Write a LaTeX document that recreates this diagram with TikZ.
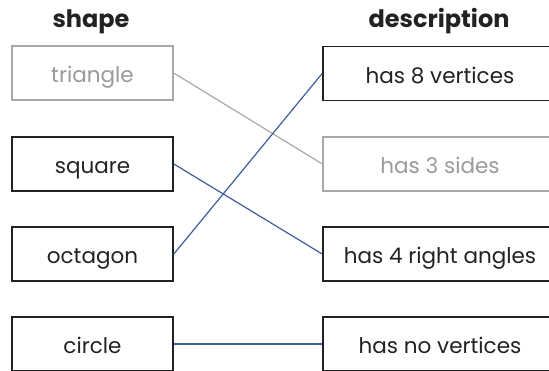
\documentclass[tikz,border=0pt]{standalone}
\usepackage{fontspec}
\setmainfont{Poppins}
\definecolor{ink}{HTML}{222222}
\definecolor{faint}{HTML}{A8A8A8}
\definecolor{fainttext}{HTML}{9A9A9A}
\definecolor{link}{HTML}{3D5E9C}
\tikzset{
  box/.style={draw=ink, line width=1.7pt, minimum width=161pt, minimum height=54pt,
              inner sep=0pt, text height=22pt, text depth=2pt,
              text=ink, font=\fontsize{21.5}{24}\selectfont},
  dimbox/.style={box, draw=faint, line width=1.3pt, text=fainttext},
  widebox/.style={box, minimum width=234pt},
  dimwide/.style={dimbox, minimum width=234pt},
  head/.style={font=\fontsize{24}{28}\selectfont\bfseries, text=ink},
  wire/.style={link, line width=1.2pt},
  dimwire/.style={faint, line width=1.2pt}
}
\begin{document}
\begin{tikzpicture}[x=1pt,y=1pt]
\useasboundingbox (0,0) rectangle (549,371);
\clip (0,0) rectangle (549,371);
% column headings
\node[head] (hs) at (91,349) {shape};
\node[head] (hd) at (439,350) {description};
% shapes
\node[dimbox] (tri) at (92.5,298) {triangle};
\node[box] (sq) at (92.5,207) {square};
\node[box] (oct) at (92.5,117) {octagon};
\node[box] (cir) at (92.5,27) {circle};
% descriptions (boxes run past the right edge)
\node[widebox] (d8) at (440,297.5) {has 8 vertices};
\node[dimwide] (d3) at (440,207) {has 3 sides};
\node[widebox] (d4) at (440,117) {has 4 right angles};
\node[widebox] (d0) at (440,27) {has no vertices};
% matching lines
\draw[dimwire] (tri.east) -- (d3.west);
\draw[wire] (oct.east) -- (d8.west);
\draw[wire] (sq.east) -- (d4.west);
\draw[wire] (cir.east) -- (d0.west);
\end{tikzpicture}
\end{document}
